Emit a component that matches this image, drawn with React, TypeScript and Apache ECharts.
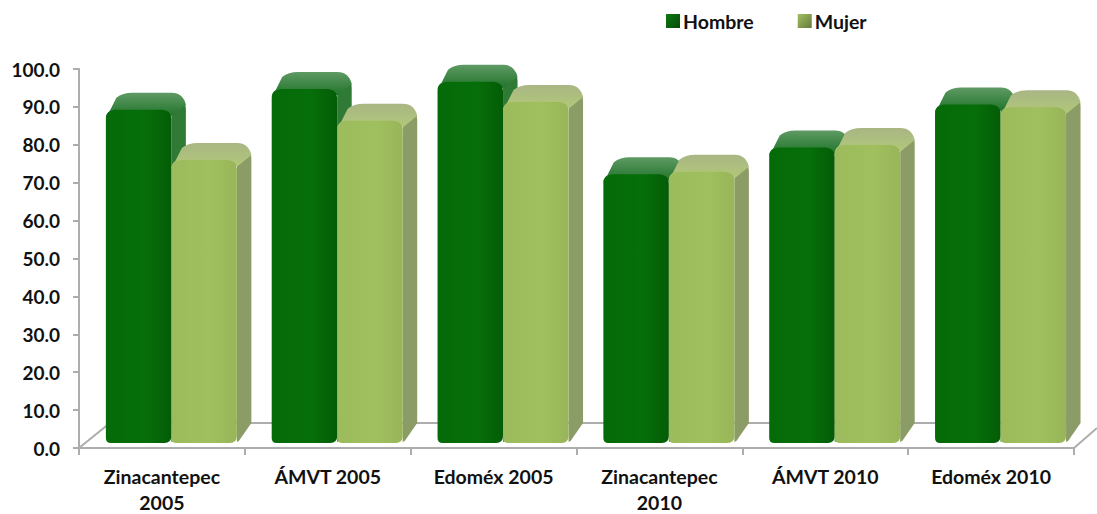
import React, { useEffect, useRef } from "react";
import * as echarts from "echarts";

const categories = ["Zinacantepec\n2005", "ÁMVT 2005", "Edoméx 2005", "Zinacantepec\n2010", "ÁMVT 2010", "Edoméx 2010"];
const hombre = [87.9, 93.4, 95.3, 70.9, 78.0, 89.3];
const mujer = [74.7, 85.0, 90.0, 71.6, 78.6, 88.6];
const font = "Lato, 'Noto Sans', sans-serif";

const grad = (a: string, b: string, c: string) =>
  new echarts.graphic.LinearGradient(0, 0, 1, 0, [
    { offset: 0, color: a },
    { offset: 0.6, color: b },
    { offset: 1, color: c },
  ]);
const vgrad = (a: string, b: string) =>
  new echarts.graphic.LinearGradient(0, 0, 0, 1, [
    { offset: 0, color: a },
    { offset: 1, color: b },
  ]);
const dgrad = (a: string, b: string) =>
  new echarts.graphic.LinearGradient(0, 0, 1, 1, [
    { offset: 0, color: a },
    { offset: 1, color: b },
  ]);

const makeRender = (side: number, colors: any) => (params: any, api: any) => {
  const idx = api.value(0);
  const top = api.coord([idx, api.value(1)]);
  const base = api.coord([idx, 0]);
  const band = api.size([1, 0])[0];
  const w = band * 0.395;
  const c = top[0] + band * 0.057;
  const x = side < 0 ? c - w : c;
  const r = x + w;
  const y = top[1] - 5;
  const b = base[1] - 5;
  const dx = 14.5;
  const dy = 17;
  const sidePath = `M${r} ${y + 4} L${r + dx - 8} ${y - dy + 4} Q${r + dx} ${y - dy + 6} ${r + dx} ${y - dy + 16} L${r + dx} ${b - dy - 3} L${r + 2} ${b - 2} L${r} ${b - 1} Z`;
  const topPath = `M${x} ${y + 8} Q${x} ${y + 4} ${x + 4} ${y + 1} L${x + dx - 4} ${y - dy + 5} Q${x + dx + 2} ${y - dy} ${x + dx + 12} ${y - dy} L${r + dx - 14} ${y - dy} Q${r + dx - 3} ${y - dy} ${r + dx} ${y - dy + 12} L${r + 1} ${y + 6} L${r} ${y + 6} Z`;
  const frontPath = `M${x} ${y + 9} Q${x} ${y + 1} ${x + 9} ${y} L${r - 9} ${y} Q${r} ${y + 1} ${r} ${y + 9} L${r} ${b - 7} Q${r} ${b} ${r - 7} ${b} L${x + 5} ${b} Q${x} ${b} ${x} ${b - 5} Z`;
  return {
    type: "group",
    children: [
      { type: "path", shape: { pathData: sidePath }, style: { fill: colors.side } },
      { type: "path", shape: { pathData: topPath }, style: { fill: colors.top } },
      { type: "path", shape: { pathData: frontPath }, style: { fill: colors.front } },
    ],
  };
};

export default function App() {
  const ref = useRef<HTMLDivElement>(null);
  useEffect(() => {
    const chart = echarts.init(ref.current!, null, { renderer: "svg" });
    const greenFront = grad("#056a08", "#066f09", "#045c06");
    const limeFront = grad("#9cbb5c", "#a0bf5e", "#98b658");
    const axisColor = "#adadad";
    const labelPad = [3, 0, 0, 0];
    chart.setOption({
      animation: false,
      backgroundColor: "#ffffff",
      grid: { left: 79, top: 69, width: 995, height: 379, outerBoundsMode: "none" },
      legend: {
        left: 661,
        top: 6,
        itemWidth: 14,
        itemHeight: 14,
        itemGap: 44,
        icon: "rect",
        selectedMode: false,
        textStyle: { fontFamily: font, fontWeight: "bold", fontSize: 19.5, color: "#111", padding: [0, 0, 0, -2] },
        data: [
          { name: "Hombre", itemStyle: { color: dgrad("#0e7a10", "#064a08") } },
          { name: "Mujer", itemStyle: { color: dgrad("#a3bf63", "#647a3a") } },
        ],
      },
      xAxis: {
        type: "category",
        data: categories,
        boundaryGap: true,
        axisLine: { show: true, lineStyle: { color: axisColor, width: 2 } },
        axisTick: { show: true, alignWithLabel: false, length: 7, lineStyle: { color: axisColor, width: 2 } },
        axisLabel: { interval: 0, margin: 15, fontFamily: font, fontWeight: "bold", fontSize: 19.5, lineHeight: 26, color: "#111" },
      },
      yAxis: {
        type: "value",
        min: 0,
        max: 100,
        interval: 10,
        splitLine: { show: false },
        axisLine: { show: true, lineStyle: { color: axisColor, width: 2 } },
        axisTick: { show: true, length: 6, lineStyle: { color: axisColor, width: 2 } },
        axisLabel: { margin: 19, padding: labelPad, fontFamily: font, fontWeight: "bold", fontSize: 19, color: "#111", formatter: (v: number) => v.toFixed(1) },
      },
      graphic: [
        { type: "polyline", z: 0, shape: { points: [[79, 448], [110, 423], [1070, 423]] }, style: { fill: "none", stroke: axisColor, lineWidth: 2 } },
        { type: "line", z: 0, shape: { x1: 1074, y1: 448, x2: 1097, y2: 428 }, style: { stroke: axisColor, lineWidth: 2 } },
      ],
      series: [
        {
          name: "Hombre",
          type: "custom",
          z: 3,
          itemStyle: { color: "#0b5f0c" },
          encode: { x: 0, y: 1 },
          data: hombre.map((v, i) => [i, v]),
          renderItem: makeRender(-1, { front: greenFront, side: "#2f7a35", top: vgrad("#5f9a64", "#1c7226") }),
        },
        {
          name: "Mujer",
          type: "custom",
          z: 4,
          itemStyle: { color: "#7f9a4c" },
          encode: { x: 0, y: 1 },
          data: mujer.map((v, i) => [i, v]),
          renderItem: makeRender(1, { front: limeFront, side: "#8c9c66", top: vgrad("#a9b684", "#b2c978") }),
        },
      ],
    });
    return () => chart.dispose();
  }, []);
  return <div ref={ref} style={{ position: "absolute", left: 0, top: 0, width: 1097, height: 514 }} />;
}
